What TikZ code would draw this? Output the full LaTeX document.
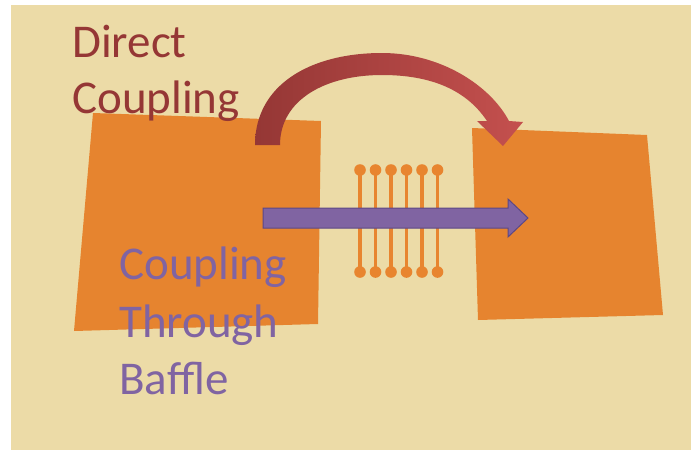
\documentclass[tikz,border=0pt]{standalone}
\usepackage{fontspec}
\setmainfont{Carlito}
\usepackage{tikz}
\usetikzlibrary{positioning, calc}
\definecolor{paper}{HTML}{ECDBA7}
\definecolor{cavity}{HTML}{E6842F}
\definecolor{baffle}{HTML}{E8852F}
\definecolor{direct}{HTML}{953735}
\definecolor{directlight}{HTML}{C4504E}
\definecolor{through}{HTML}{8064A2}
\definecolor{throughdark}{HTML}{5C4885}

\begin{document}
\begin{tikzpicture}
[x=1pt,y=-1pt,
cavitybox/.style={fill=cavity,draw=none},
rod/.style={draw=baffle,line width=3.5pt},
knob/.style={fill=baffle,draw=none},
label/.style={inner sep=0pt,align=left}]
\useasboundingbox (0,0) rectangle (691,450);
\fill[paper] (11,5) rectangle (691,450);

% the two cavities
\fill[cavitybox] (93,113) -- (321,121) -- (318,324) -- (74,331) -- cycle;
\fill[cavitybox] (472,128) -- (647,135) -- (663,315) -- (478,320) -- cycle;

% baffle
\foreach \x in {360,375.5,391,406.5,422,437.5} {
  \draw[rod] (\x,170) -- (\x,272);
  \fill[knob] (\x,170) circle (5.8);
  \fill[knob] (\x,272) circle (5.8);
}

% coupling through baffle
\draw[fill=through,draw=throughdark,line width=1pt]
  (263,208) -- (508,208) -- (508,199) -- (528,218) -- (508,237)
  -- (508,228) -- (263,228) -- cycle;

% direct coupling
\shade[left color=direct,right color=directlight]
  (255,145) .. controls (255,85) and (310,53) .. (382,53)
  .. controls (440,53) and (490,85) .. (509,121)
  -- (523,122) -- (503,146) -- (477,121) -- (487,121)
  .. controls (465,88) and (428,75) .. (382,75)
  .. controls (325,75) and (280,100) .. (280,145) -- cycle;

\node[label,text=direct,anchor=north west,font=\fontsize{47}{56}\selectfont] (direct) at (72,25) {Direct\\Coupling};
\node[label,text=through,anchor=north west,font=\fontsize{47}{57.5}\selectfont] (through) at (119,247) {Coupling\\Through\\Baffle};
\end{tikzpicture}
\end{document}
